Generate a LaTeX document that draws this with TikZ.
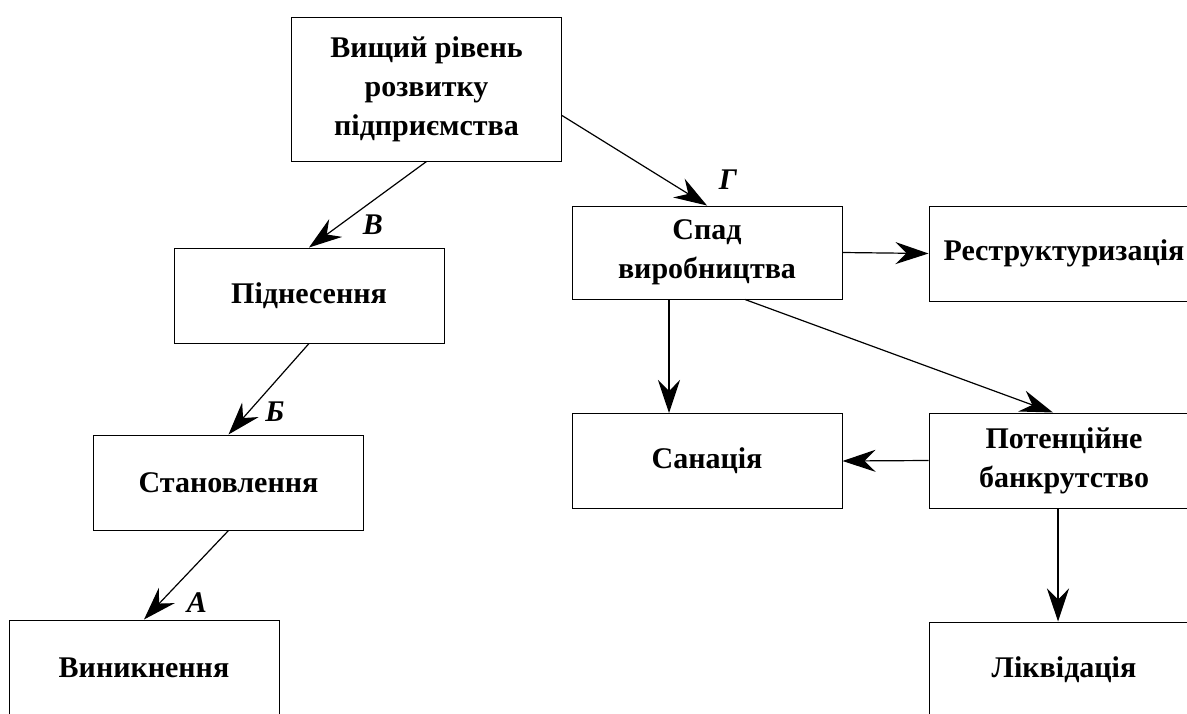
\documentclass[tikz,border=0pt]{standalone}
\usepackage{fontspec}
\setmainfont{Liberation Serif}
\usetikzlibrary{arrows.meta}

\tikzset{
  stagebox/.style={draw, line width=1pt, minimum width=270pt, minimum height=95pt,
    inner sep=0pt, align=center, font=\bfseries\fontsize{30}{39}\selectfont},
  edgelabel/.style={inner sep=0pt, font=\bfseries\itshape\fontsize{30}{36}\selectfont},
}

\begin{document}
\begin{tikzpicture}[x=1pt, y=-1pt, line width=1.2pt, >={Stealth[length=33pt,width=22pt,inset=11pt]}]
    \useasboundingbox (0,0) rectangle (1187,713);
    \clip (0,0) rectangle (1187,713);

    \node[stagebox, minimum height=144pt] (top) at (426.5, 89) {Вищий рівень\\розвитку\\підприємства};
    \node[stagebox] (pidn) at (309, 295.5) {Піднесення};
    \node[stagebox] (stan) at (228.5, 482.5) {Становлення};
    \node[stagebox] (vyn) at (144, 667.5) {Виникнення};

    \node[stagebox, minimum height=93pt] (spad) at (707, 252.5) {Спад\\виробництва};
    \node[stagebox] (restr) at (1064, 253.5) {Реструктуризація};
    \node[stagebox] (san) at (707, 461) {Санація};
    \node[stagebox] (pot) at (1064, 460.5) {Потенційне\\банкрутство};
    \node[stagebox] (likv) at (1064, 669.5) {Ліквідація};

    \node[edgelabel] (lv) at (373, 225) {В};
    \node[edgelabel] (lb) at (275, 412) {Б};
    \node[edgelabel] (la) at (197, 603) {А};
    \node[edgelabel] (lg) at (728, 180) {Г};

    \draw[->] (top.south) to (pidn.north);
    \draw[->] (pidn.south) to (stan.north);
    \draw[->] (stan.south) to (vyn.north);
    \draw[->] ([yshift=46pt]top.south east) to (spad.north);
    \draw[->] (spad.east) to (restr.west);
    \draw[->] ([xshift=-38pt]spad.south) to ([xshift=-38pt]san.north);
    \draw[->] ([xshift=38pt]spad.south) to ([xshift=-11pt]pot.north);
    \draw[->] (pot.west) to (san.east);
    \draw[->] ([xshift=-6pt]pot.south) to ([xshift=-6pt]likv.north);
\end{tikzpicture}
\end{document}
